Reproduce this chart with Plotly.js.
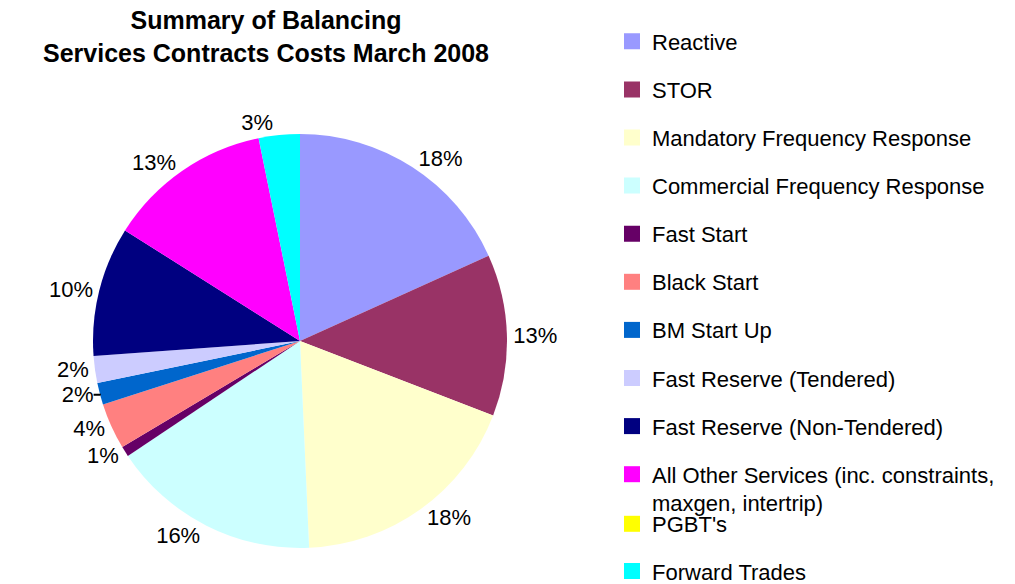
<!DOCTYPE html>
<html>
<head>
<meta charset="utf-8">
<script src="https://cdn.plot.ly/plotly-3.0.1.min.js"></script>
<style>html,body{margin:0;padding:0;background:#fff;overflow:hidden;}#chart{width:1015px;height:600px;}</style>
</head>
<body>
<div id="chart"></div>
<script>
const categories = [
  "Reactive",
  "STOR",
  "Mandatory Frequency Response",
  "Commercial Frequency Response",
  "Fast Start",
  "Black Start",
  "BM Start Up",
  "Fast Reserve (Tendered)",
  "Fast Reserve (Non-Tendered)",
  "All Other Services (inc. constraints,<br>maxgen, intertrip)",
  "PGBT's",
  "Forward Trades"
];
const values = [18.2, 12.6, 18.4, 16.3, 0.8, 3.6, 1.7, 2.1, 10.1, 12.8, 0, 3.2];
const colors = ["#9999FF", "#993366", "#FFFFCC", "#CCFFFF", "#660066", "#FF8080",
                "#0066CC", "#CCCCFF", "#000080", "#FF00FF", "#FFFF00", "#00FFFF"];

const FONT = "Liberation Sans, Arial, sans-serif";
const W = 1015, H = 600; // figure is slightly taller than the 584px window; the bottom is clipped

const pie = {
  type: "pie",
  labels: categories,
  values: values,
  sort: false,
  direction: "clockwise",
  rotation: 0,
  marker: {colors: colors, line: {width: 0}},
  textposition: "outside",
  texttemplate: values.map(v => v > 0 ? "%{percent:.0%}" : ""),
  textfont: {family: FONT, size: 22, color: "#000"},
  outsidetextfont: {family: FONT, size: 22, color: "#000"},
  showlegend: false,
  domain: {x: [93/W, 507/W], y: [1 - 548/H, 1 - 134/H]},
  hoverinfo: "label+percent"
};

// legend entries, one per category, drawn by the library's legend
const legendTraces = categories.map((c, i) => ({
  type: "scatter",
  x: [null], y: [null],
  mode: "markers",
  name: c,
  legendgroup: "g" + i,
  legend: i < 10 ? "legend" : "legend2",
  marker: {symbol: "square", size: 16, color: colors[i], line: {width: 0}},
  showlegend: true,
  hoverinfo: "skip"
}));

const legendFont = {family: FONT, size: 22, color: "#000"};

const layout = {
  width: W, height: H,
  margin: {l: 0, r: 0, t: 0, b: 0, autoexpand: false},
  paper_bgcolor: "#fff", plot_bgcolor: "#fff",
  title: {
    text: "Summary of Balancing<br>Services Contracts Costs March 2008",
    x: 266/W, xanchor: "center", xref: "paper",
    y: 1 - 29/H, yanchor: "top", yref: "container",
    font: {family: FONT, size: 25, color: "#000", weight: "bold"}
  },
  xaxis: {visible: false}, yaxis: {visible: false},
  legend: {
    x: 612/W, xanchor: "left", y: 1 - 20.5/H, yanchor: "top",
    font: legendFont,
    tracegroupgap: 16.5, valign: "top", bgcolor: "rgba(0,0,0,0)"
  },
  legend2: {
    x: 612/W, xanchor: "left", y: 1 - 503/H, yanchor: "top",
    font: legendFont,
    tracegroupgap: 15.6, valign: "top", bgcolor: "rgba(0,0,0,0)"
  },
  showlegend: true
};

Plotly.newPlot("chart", [pie].concat(legendTraces), layout, {displayModeBar: false, staticPlot: true});
</script>
</body>
</html>
